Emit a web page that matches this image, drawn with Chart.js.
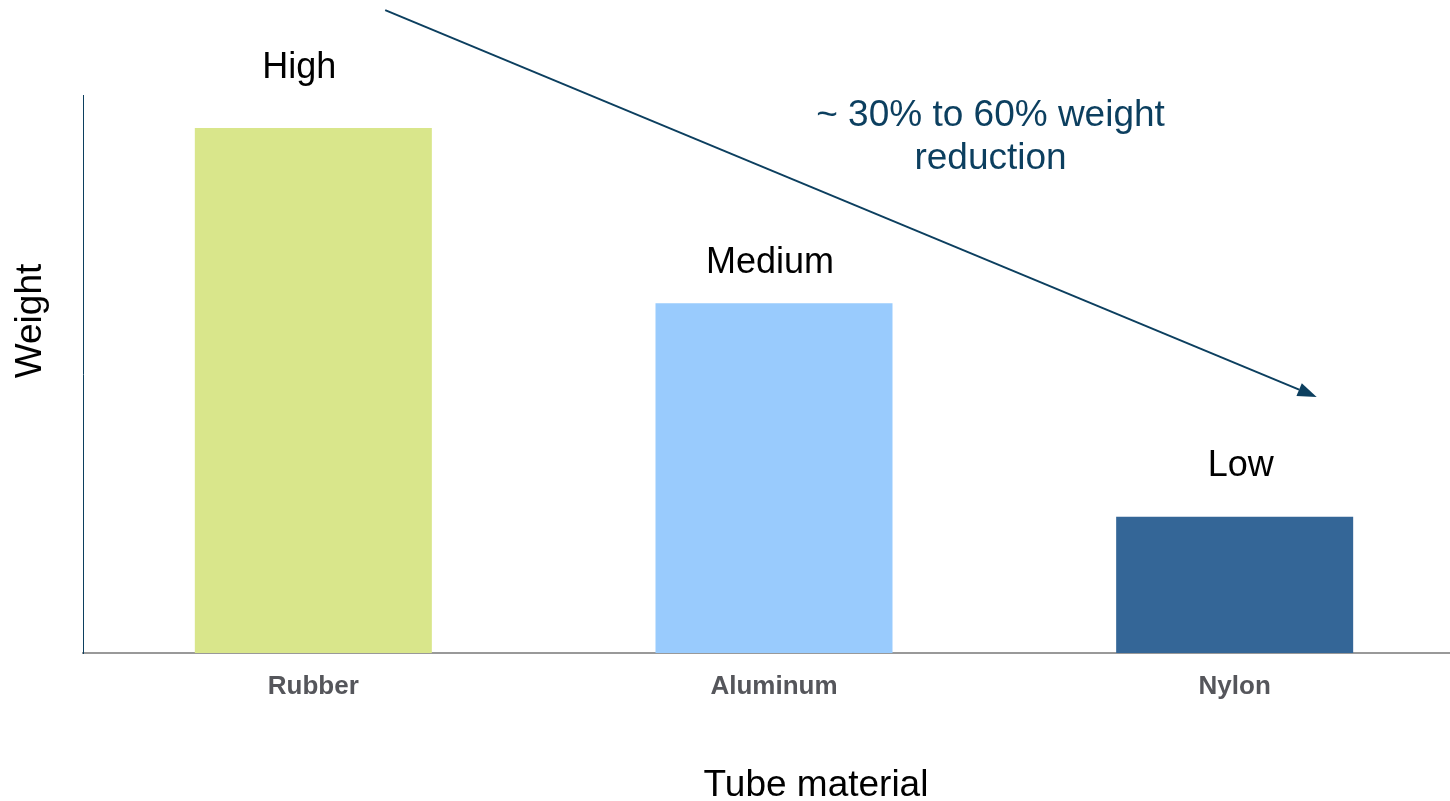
<!DOCTYPE html>
<html>
<head>
<meta charset="utf-8">
<script src="https://cdn.jsdelivr.net/npm/chart.js@4.4.1/dist/chart.umd.min.js"></script>
<style>
  html, body { margin: 0; padding: 0; background: #ffffff; overflow: hidden; }
  #wrap { width: 1450px; height: 801px; overflow: hidden; position: relative; }
  canvas { display: block; }
</style>
</head>
<body>
<div id="wrap"><canvas id="chart" width="1465" height="801"></canvas></div>
<script>
// Tube materials and their relative weight (arbitrary units, 0-100)
const categories = ['Rubber', 'Aluminum', 'Nylon'];
const weightValues = [94.1, 62.7, 24.4];
const levelLabels = ['High', 'Medium', 'Low'];
const barColors = ['#d9e68b', '#99cbfd', '#346697'];
const trendNote = ['~ 30% to 60% weight', 'reduction'];
const xTitle = 'Tube material';
const yTitle = 'Weight';

const FONT = '"Liberation Sans", Arial, Helvetica, sans-serif';
const NAVY = '#0c3f5f';

// Axis titles, level words above each bar and the downward trend arrow with its note
const annotations = {
  id: 'annotations',
  afterDatasetsDraw(chart, args, opts) {
    const { ctx, chartArea, scales: { x, y } } = chart;
    const meta = chart.getDatasetMeta(0);
    ctx.save();

    // axis titles
    ctx.font = '37px ' + FONT;
    ctx.fillStyle = '#000000';
    ctx.textAlign = 'center';
    ctx.textBaseline = 'alphabetic';
    ctx.fillText(xTitle, chartArea.left + opts.xTitleAt[0], opts.xTitleAt[1]);
    ctx.save();
    ctx.translate(opts.yTitleAt[0], chartArea.top + opts.yTitleAt[1]);
    ctx.rotate(-Math.PI / 2);
    ctx.fillText(yTitle, 0, 0);
    ctx.restore();

    // level words, baseline a set gap above each bar top
    ctx.font = '36px ' + FONT;
    meta.data.forEach((bar, i) => {
      ctx.fillText(levelLabels[i], bar.x + opts.labelShift[i], bar.y - opts.labelGaps[i]);
    });

    // trend arrow, endpoints in data space (category index, value)
    const x0 = x.getPixelForValue(opts.arrowFrom[0]);
    const y0 = y.getPixelForValue(opts.arrowFrom[1]);
    const x1 = x.getPixelForValue(opts.arrowTo[0]);
    const y1 = y.getPixelForValue(opts.arrowTo[1]);
    const ang = Math.atan2(y1 - y0, x1 - x0);
    const headLen = 19, headHalf = 7;
    const bx = x1 - headLen * Math.cos(ang);
    const by = y1 - headLen * Math.sin(ang);
    ctx.strokeStyle = NAVY;
    ctx.fillStyle = NAVY;
    ctx.lineWidth = 2;
    ctx.beginPath();
    ctx.moveTo(x0, y0);
    ctx.lineTo(bx, by);
    ctx.stroke();
    ctx.beginPath();
    ctx.moveTo(x1, y1);
    ctx.lineTo(bx + headHalf * Math.sin(ang), by - headHalf * Math.cos(ang));
    ctx.lineTo(bx - headHalf * Math.sin(ang), by + headHalf * Math.cos(ang));
    ctx.closePath();
    ctx.fill();

    // note beside the arrow
    const nx = x.getPixelForValue(opts.notePos[0]);
    const ny = y.getPixelForValue(opts.notePos[1]);
    ctx.font = '37px ' + FONT;
    ctx.textBaseline = 'middle';
    trendNote.forEach((line, i) => ctx.fillText(line, nx, ny + i * 43));
    ctx.restore();
  }
};

new Chart(document.getElementById('chart'), {
  type: 'bar',
  data: {
    labels: categories,
    datasets: [{
      data: weightValues,
      backgroundColor: barColors,
      borderWidth: 0,
      barPercentage: 0.5145,
      categoryPercentage: 1
    }]
  },
  options: {
    responsive: false,
    animation: false,
    devicePixelRatio: 1,
    layout: { padding: { top: 95, right: 0, left: 0, bottom: 0 } },
    plugins: {
      legend: { display: false },
      tooltip: { enabled: false },
      annotations: {
        labelGaps: [50, 30, 41],
        labelShift: [-14, -4, 6],
        arrowFrom: [0.156, 115.2],
        arrowTo: [2.178, 45.9],
        notePos: [1.47, 96.2],
        xTitleAt: [733, 796],
        yTitleAt: [41, 226]
      }
    },
    scales: {
      x: {
        type: 'category',
        offset: true,
        grid: { display: false, drawTicks: false },
        border: { display: true, color: '#999999', width: 2 },
        ticks: {
          color: '#55565b',
          padding: 18,
          font: { family: FONT, size: 26, weight: 'bold' }
        },
        title: { display: false },
        afterFit(scale) { scale.height = 148; }
      },
      y: {
        min: 0,
        max: 100,
        grid: { display: false, drawTicks: false },
        border: { display: true, color: NAVY, width: 1 },
        ticks: { display: false },
        title: { display: false },
        afterFit(scale) { scale.width = 83; }
      }
    }
  },
  plugins: [annotations]
});
</script>
</body>
</html>
